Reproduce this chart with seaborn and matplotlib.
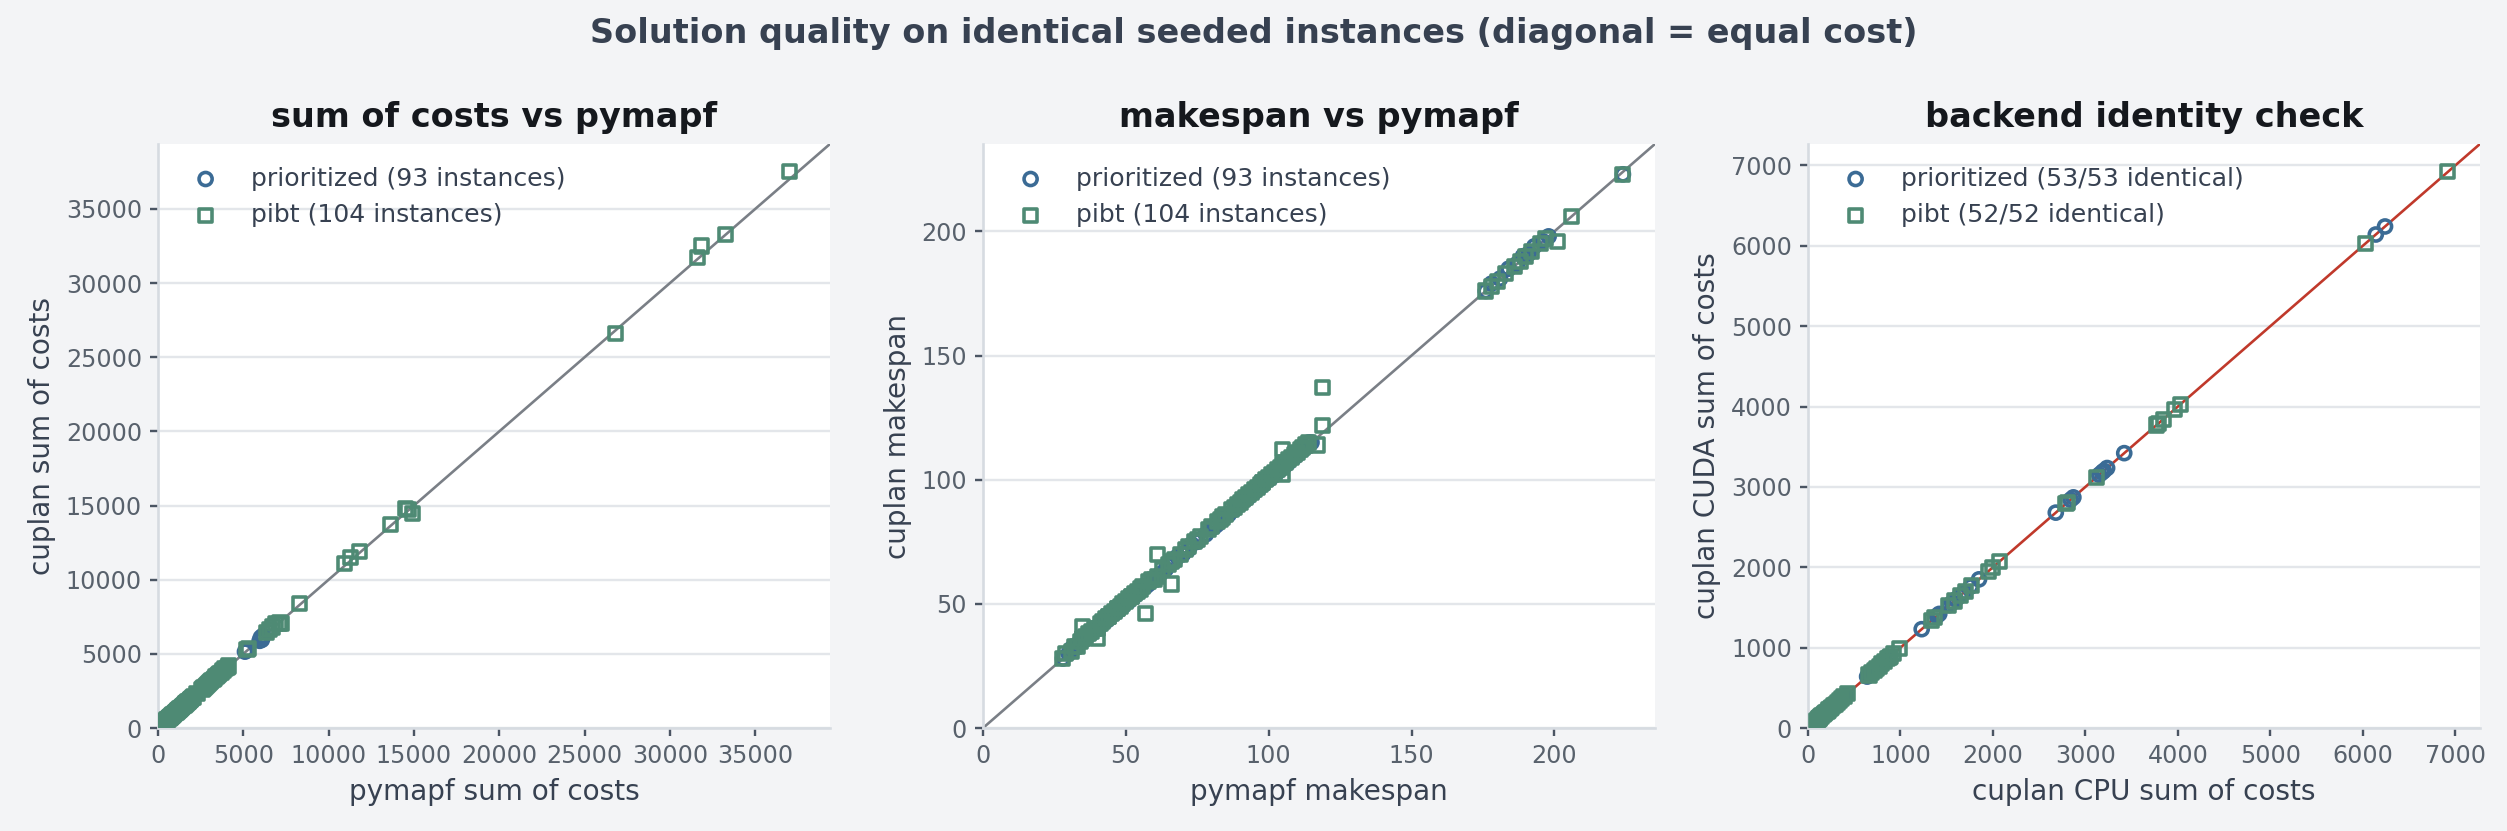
import numpy as np
import pandas as pd
import seaborn as sns
import matplotlib.pyplot as plt

# ---- sum of costs, pymapf vs cuplan ----
pr_soc_pymapf = [318, 352, 384, 410, 437, 462, 488, 515, 541, 566,
                 590, 615, 640, 662, 688, 712, 736, 760, 785, 808,
                 832, 856, 880, 905, 930, 956, 982, 1008, 1035, 1062,
                 1090, 1118, 1146, 1175, 1204, 1232, 1262, 1290, 1320, 1350,
                 1380, 1410, 1442, 1474, 1506, 1540, 1574, 1608, 1644, 1680,
                 1716, 1754, 1792, 1832, 1874, 1916, 1960, 2006, 2052, 2600,
                 2650, 2705, 2760, 2815, 2870, 2930, 2990, 3050, 3115, 3180,
                 3250, 3320, 3395, 3475, 3560, 3650, 3745, 3850, 3960, 4075,
                 5100, 5170, 5240, 5960, 6030, 6090, 6160, 1450, 2200, 980,
                 760, 1230, 1815]
pr_soc_cuplan = [320, 350, 390, 410, 441, 468, 486, 520, 545, 566,
                 598, 612, 646, 668, 690, 716, 742, 758, 790, 816,
                 836, 862, 884, 910, 928, 962, 990, 1012, 1044, 1066,
                 1096, 1124, 1150, 1186, 1210, 1240, 1270, 1298, 1326, 1362,
                 1388, 1420, 1448, 1486, 1514, 1550, 1580, 1622, 1652, 1694,
                 1728, 1760, 1806, 1840, 1890, 1926, 1972, 2018, 2070, 2640,
                 2690, 2730, 2800, 2850, 2900, 2960, 3030, 3090, 3150, 3210,
                 3290, 3360, 3420, 3520, 3600, 3690, 3780, 3890, 4010, 4120,
                 5150, 5220, 5300, 5880, 6100, 5950, 6230, 1462, 2218, 990,
                 772, 1240, 1830]
pb_soc_pymapf = [300, 330, 362, 395, 425, 452, 480, 506, 532, 560,
                 585, 610, 636, 660, 684, 708, 732, 758, 782, 806,
                 830, 855, 880, 906, 932, 958, 984, 1010, 1038, 1066,
                 1094, 1122, 1150, 1180, 1210, 1240, 1270, 1300, 1332, 1364,
                 1396, 1430, 1464, 1498, 1534, 1570, 1606, 1644, 1682, 1720,
                 1760, 1800, 1842, 1884, 1928, 1972, 2018, 2064, 2580, 2640,
                 2700, 2760, 2820, 2880, 2945, 3010, 3080, 3150, 3230, 3310,
                 3400, 3490, 3590, 3700, 3810, 3930, 4050, 5220, 5310, 6380,
                 6520, 6700, 6900, 7120, 7250, 8320, 10920, 11300, 11820, 13620,
                 14500, 14650, 14920, 26800, 31600, 31850, 33250, 37000, 1150, 2290,
                 860, 1620, 3560, 4120]
pb_soc_cuplan = [304, 336, 360, 402, 430, 450, 488, 510, 540, 566,
                 592, 618, 640, 668, 690, 716, 738, 766, 790, 812,
                 840, 862, 890, 912, 940, 966, 990, 1020, 1046, 1074,
                 1102, 1130, 1160, 1192, 1220, 1250, 1282, 1312, 1344, 1376,
                 1410, 1442, 1478, 1512, 1548, 1584, 1620, 1660, 1698, 1740,
                 1780, 1820, 1862, 1906, 1950, 1996, 2042, 2090, 2620, 2680,
                 2740, 2800, 2860, 2920, 2990, 3060, 3130, 3200, 3280, 3370,
                 3460, 3550, 3660, 3760, 3880, 4000, 4110, 5280, 5360, 6450,
                 6640, 6810, 7020, 7080, 7050, 8380, 11080, 11520, 11880, 13720,
                 14780, 14720, 14480, 26600, 31700, 32500, 33300, 37500, 1162, 2310,
                 872, 1640, 3610, 4180]

# ---- makespan, pymapf vs cuplan ----
pr_mk_pymapf = [28, 30, 31, 32, 33, 34, 35, 36, 37, 38,
                39, 40, 41, 42, 43, 44, 45, 46, 47, 48,
                49, 50, 51, 52, 53, 54, 55, 56, 57, 58,
                60, 62, 64, 66, 67, 68, 70, 72, 73, 75,
                78, 80, 81, 82, 83, 84, 86, 88, 89, 90,
                91, 92, 93, 94, 95, 96, 97, 98, 99, 100,
                101, 102, 103, 104, 105, 106, 107, 108, 109, 110,
                111, 112, 113, 114, 115, 176, 178, 181, 184, 187,
                189, 191, 193, 196, 198, 224, 45, 52, 88, 95,
                102, 38, 65]
pr_mk_cuplan = [28, 30, 32, 32, 33, 35, 35, 36, 38, 38,
                40, 40, 41, 43, 43, 44, 46, 46, 47, 49,
                49, 51, 51, 53, 53, 54, 55, 57, 57, 58,
                60, 62, 64, 67, 67, 69, 70, 72, 74, 75,
                78, 81, 81, 82, 84, 84, 86, 88, 90, 90,
                92, 92, 93, 95, 95, 97, 97, 98, 100, 100,
                101, 103, 103, 104, 106, 106, 107, 109, 109, 110,
                112, 112, 113, 115, 115, 176, 179, 181, 185, 187,
                190, 191, 194, 196, 198, 223, 46, 53, 88, 96,
                103, 39, 66]
pb_mk_pymapf = [28, 29, 31, 32, 33, 34, 35, 35, 36, 37,
                38, 39, 40, 41, 42, 43, 44, 45, 46, 47,
                48, 49, 50, 51, 52, 53, 54, 55, 56, 58,
                59, 61, 63, 65, 66, 67, 69, 71, 72, 74,
                76, 79, 80, 82, 83, 84, 87, 88, 89, 90,
                91, 92, 93, 94, 95, 96, 97, 98, 99, 100,
                101, 102, 103, 104, 105, 106, 107, 108, 109, 110,
                111, 112, 113, 114, 176, 178, 180, 183, 186, 188,
                190, 192, 195, 197, 201, 206, 224, 119, 119, 117,
                105, 57, 61, 66, 35, 40, 105, 60, 75, 85,
                44, 52, 98, 47]
pb_mk_cuplan = [28, 30, 31, 33, 33, 35, 36, 36, 37, 38,
                39, 40, 40, 42, 43, 44, 45, 46, 47, 48,
                49, 50, 51, 52, 53, 54, 55, 56, 57, 59,
                60, 61, 64, 66, 67, 68, 70, 72, 73, 75,
                77, 80, 81, 83, 84, 85, 88, 89, 90, 91,
                92, 93, 94, 95, 96, 97, 98, 99, 100, 101,
                102, 103, 104, 105, 106, 107, 108, 109, 110, 111,
                112, 113, 114, 115, 176, 178, 180, 183, 186, 188,
                190, 192, 195, 197, 196, 206, 223, 137, 122, 114,
                112, 46, 70, 58, 41, 36, 102, 60, 76, 86,
                45, 53, 99, 48]

# ---- backend identity: cuplan CPU vs CUDA sum of costs ----
pr_cpu = [105, 118, 130, 142, 155, 168, 180, 196, 212, 228,
          246, 265, 285, 305, 328, 352, 378, 405, 640, 668,
          695, 720, 748, 775, 805, 835, 868, 1230, 1395, 1420,
          1530, 1560, 1640, 1690, 1850, 2680, 2840, 2870, 3150, 3200,
          3235, 3420, 6140, 6240, 700, 760, 820, 150, 260, 340,
          1600, 1760, 3180]
pr_cuda = [105, 118, 130, 142, 155, 168, 180, 196, 212, 228,
           246, 265, 285, 305, 328, 352, 378, 405, 640, 668,
           695, 720, 748, 775, 805, 835, 868, 1230, 1395, 1420,
           1530, 1560, 1640, 1690, 1850, 2680, 2840, 2870, 3150, 3200,
           3235, 3420, 6140, 6240, 700, 760, 820, 150, 260, 340,
           1600, 1760, 3180]
pb_cpu = [98, 112, 125, 138, 150, 164, 178, 192, 208, 224,
          240, 258, 276, 296, 318, 340, 365, 390, 432, 660,
          690, 715, 742, 770, 800, 830, 862, 895, 930, 990,
          1340, 1370, 1520, 1580, 1650, 1700, 1770, 1950, 2000, 2070,
          2790, 2810, 3120, 3770, 3790, 3840, 3960, 4030, 6030, 6920,
          120, 880]
pb_cuda = [98, 112, 125, 138, 150, 164, 178, 192, 208, 224,
           240, 258, 276, 296, 318, 340, 365, 390, 432, 660,
           690, 715, 742, 770, 800, 830, 862, 895, 930, 990,
           1340, 1370, 1520, 1580, 1650, 1700, 1770, 1950, 2000, 2070,
           2790, 2810, 3120, 3770, 3790, 3840, 3960, 4030, 6030, 6920,
           120, 880]

BG = "#f3f4f6"
BLUE = "#3b6b95"
GREEN = "#4e8a74"
GREY_LINE = "#7a7f86"
RED_LINE = "#c0392b"

sns.set_theme(style="whitegrid")
plt.rcParams.update({
    "font.family": ["DejaVu Sans"],
    "axes.edgecolor": "#d6dbe1",
    "axes.linewidth": 1.1,
    "grid.color": "#e3e6ea",
    "grid.linewidth": 1.0,
    "xtick.color": "#4b5563",
    "ytick.color": "#4b5563",
    "xtick.labelcolor": "#58616c",
    "ytick.labelcolor": "#58616c",
    "xtick.labelsize": 10,
    "ytick.labelsize": 10,
    "xtick.major.size": 3.2,
    "ytick.major.size": 3.2,
    "xtick.major.width": 1.0,
    "ytick.major.width": 1.0,
    "xtick.bottom": True,
    "ytick.left": True,
    "axes.labelcolor": "#374151",
    "axes.labelsize": 11.7,
})

fig, axes = plt.subplots(1, 3, figsize=(2507 / 172, 831 / 172), dpi=172)
fig.patch.set_facecolor(BG)
fig.subplots_adjust(left=0.063, right=0.9892, bottom=0.1239, top=0.8267, wspace=0.2277)


def panel(ax, prx, pry, pbx, pby, pr_lab, pb_lab, line_col, title, xlabel, ylabel):
    lim = max(max(prx), max(pry), max(pbx), max(pby)) * 1.05
    ax.plot([0, lim], [0, lim], color=line_col, lw=1.1, zorder=1)
    sns.scatterplot(x=prx, y=pry, ax=ax, marker="o", s=30, facecolor="none",
                    edgecolor=BLUE, linewidth=1.5, label=pr_lab, zorder=2)
    sns.scatterplot(x=pbx, y=pby, ax=ax, marker="s", s=30, facecolor="none",
                    edgecolor=GREEN, linewidth=1.5, label=pb_lab, zorder=3)
    ax.set_xlim(0, lim)
    ax.set_ylim(0, lim)
    ax.set_facecolor("white")
    ax.grid(axis="x", visible=False)
    ax.grid(axis="y", visible=True)
    sns.despine(ax=ax)
    ax.set_title(title, fontsize=14, fontweight="bold", color="#15181d", pad=7)
    ax.set_xlabel(xlabel)
    ax.set_ylabel(ylabel)
    leg = ax.legend(loc="upper left", frameon=False, fontsize=10.5)
    for t in leg.get_texts():
        t.set_color("#374151")


panel(axes[0], pr_soc_pymapf, pr_soc_cuplan, pb_soc_pymapf, pb_soc_cuplan,
      f"prioritized ({len(pr_soc_pymapf)} instances)", f"pibt ({len(pb_soc_pymapf)} instances)",
      GREY_LINE, "sum of costs vs pymapf", "pymapf sum of costs", "cuplan sum of costs")
panel(axes[1], pr_mk_pymapf, pr_mk_cuplan, pb_mk_pymapf, pb_mk_cuplan,
      f"prioritized ({len(pr_mk_pymapf)} instances)", f"pibt ({len(pb_mk_pymapf)} instances)",
      GREY_LINE, "makespan vs pymapf", "pymapf makespan", "cuplan makespan")

pr_same = sum(a == b for a, b in zip(pr_cpu, pr_cuda))
pb_same = sum(a == b for a, b in zip(pb_cpu, pb_cuda))
panel(axes[2], pr_cpu, pr_cuda, pb_cpu, pb_cuda,
      f"prioritized ({pr_same}/{len(pr_cpu)} identical)", f"pibt ({pb_same}/{len(pb_cpu)} identical)",
      RED_LINE, "backend identity check", "cuplan CPU sum of costs", "cuplan CUDA sum of costs")

fig.suptitle("Solution quality on identical seeded instances (diagonal = equal cost)",
             fontsize=14, fontweight="bold", color="#374151", y=0.96, va="center")

fig.savefig("out.png", dpi=172, facecolor=BG)
